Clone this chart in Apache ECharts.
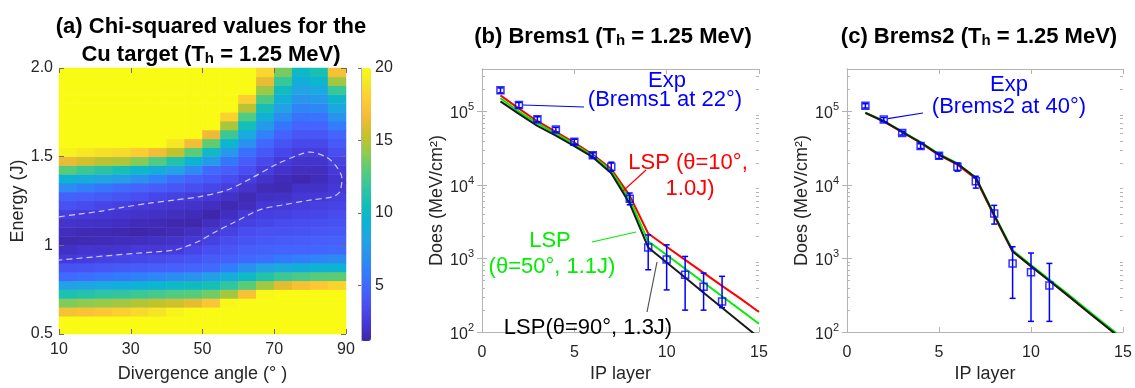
<!DOCTYPE html>
<html>
<head>
<meta charset="utf-8">
<script src="https://cdn.jsdelivr.net/npm/echarts@6/dist/echarts.min.js"></script>
<style>
  html, body { margin: 0; padding: 0; background: #fff; }
  #chart { width: 1135px; height: 388px; }
</style>
</head>
<body>
<div id="chart"></div>
<script>
// ---------- Panel (a): chi-squared map over divergence angle and laser energy ----------
// Cells are 5 deg wide and 0.05 J tall; values listed at the cell centres.
const angleBins = [12.5, 17.5, 22.5, 27.5, 32.5, 37.5, 42.5, 47.5, 52.5, 57.5, 62.5, 67.5, 72.5, 77.5, 82.5, 87.5];
const energyBins = [0.525, 0.575, 0.625, 0.675, 0.725, 0.775, 0.825, 0.875, 0.925, 0.975,
                    1.025, 1.075, 1.125, 1.175, 1.225, 1.275, 1.325, 1.375, 1.425, 1.475,
                    1.525, 1.575, 1.625, 1.675, 1.725, 1.775, 1.825, 1.875, 1.925, 1.975];
// One row per angle bin, energies ascending (values at or above 20 are shown saturated)
const chiSq = [
  [20,20,17,13.8,11,8,5,3.7,2.5,1.9,1.4,1.7,2.1,2.7,3.7,4.6,6.7,9.4,12.9,16.3,19.5,20,20,20,20,20,20,20,20,20],
  [20,20,17.2,14.1,11.3,8.3,5.2,3.9,2.6,2.2,1.5,1.5,2,2.5,3.4,4.4,6.1,8.9,12.1,15.7,19.1,20,20,20,20,20,20,20,20,20],
  [20,20,17.5,14.3,11.6,8.6,5.5,4,2.85,2.15,1.6,1.45,1.9,2.3,3.1,4.2,5.6,8.3,11.5,15.1,18.7,20,20,20,20,20,20,20,20,20],
  [20,20,17.9,14.6,11.8,8.9,5.8,4.2,3.05,2.2,1.7,1.35,1.8,2.2,2.8,3.9,5,7.8,10.8,14.8,18.4,20,20,20,20,20,20,20,20,20],
  [20,20,18.4,14.9,12.1,9.3,6.1,4.3,3.2,2.45,1.8,1.25,1.6,2.05,2.45,3.55,4.7,7.1,9.8,13.9,17.8,20,20,20,20,20,20,20,20,20],
  [20,20,18.9,15.2,12.4,9.6,6.4,4.4,3.35,2.4,1.9,1.35,1.5,1.9,2.3,3.15,4.35,6.2,9,12.7,16.7,20,20,20,20,20,20,20,20,20],
  [20,20,19.6,15.6,12.7,9.9,6.75,4.55,3.55,2.55,2.05,1.55,1.3,1.75,2.2,2.85,4,5.3,8.1,11.2,15.2,19,20,20,20,20,20,20,20,20],
  [20,20,20,16.2,12.9,10.2,7.1,4.75,3.9,3.1,2.35,1.85,1.3,1.6,2.05,2.55,3.6,4.6,6.7,9.4,13,16.7,20,20,20,20,20,20,20,20],
  [20,20,20,17.4,13.5,10.7,7.8,5,4.3,3.6,2.9,2.3,1.8,1.25,1.8,2.35,3.15,4.1,5,7.5,10,13.1,16.5,20,20,20,20,20,20,20],
  [20,20,20,19.8,14.6,11.7,8.8,5.9,4.6,4,3.5,2.9,2.3,1.8,1.4,1.95,2.7,3.5,4.4,5.6,7.6,9.6,12.1,14.7,18,20,20,20,20,20],
  [20,20,20,20,17,13,10,7.1,4.85,4.4,3.9,3.4,2.9,2.5,1.7,1.5,2.1,2.75,3.55,4.35,5.35,7,8.7,10.5,12.7,15,17.9,20,20,20],
  [20,20,20,20,19.8,14.5,11.2,8.1,5.2,4.6,4.1,3.7,3.2,2.75,2.35,1.9,1.55,2.05,2.6,3.3,4.1,4.85,6.2,7.6,9.1,10.7,12.6,14.4,16.3,18.3],
  [20,20,20,20,20,16.1,12.1,8.7,5.75,4.7,4.25,3.8,3.4,2.9,2.5,2,1.4,1.6,2.05,2.5,3.2,3.9,4.65,5.6,6.75,7.9,9.05,10.3,11.9,13.6],
  [20,20,20,20,20,17,12.5,9,6.05,4.75,4.35,3.9,3.5,3.1,2.65,2.3,1.95,1.32,1.75,2.1,2.65,3.3,4,4.7,5.45,6.35,7.25,8.1,9,9.9],
  [20,20,20,20,20,17.6,12.9,9.3,6.35,4.8,4.4,4,3.6,3.2,2.8,2.4,2,1.65,1.75,2.15,2.65,3.3,4,4.7,5.5,6.55,7.55,8.55,9.6,10.8],
  [20,20,20,20,20,18.1,13,9.35,6.65,4.85,4.5,4.1,3.75,3.4,3.05,2.7,2.4,2.2,2.45,2.95,3.6,4.2,4.8,5.9,7.2,8.5,9.7,12,14.5,17]
];
// Dashed low-chi-squared contour, traced as (angle, energy) pairs
const contourAngle  = [10, 15, 21.4, 28, 35.3, 42, 49.3, 56.7, 63.3, 70.7, 77.2, 80, 84.7, 87.5, 88.9, 88.6, 88.4,
                       86.4, 80, 72.4, 65.9, 58.6, 53, 49.3, 45, 41.9, 30.7, 20, 10];
const contourEnergy = [1.161, 1.175, 1.192, 1.215, 1.238, 1.255, 1.275, 1.311, 1.375, 1.458, 1.513, 1.526, 1.495, 1.44, 1.376, 1.321, 1.303,
                       1.274, 1.255, 1.228, 1.2, 1.127, 1.07, 1.026, 0.99, 0.972, 0.954, 0.935, 0.917];
const angleTicks = [10, 30, 50, 70, 90];
const energyTicks = [0.5, 1, 1.5, 2];
const colorbarTicks = [5, 10, 15, 20];

// ---------- Panels (b) and (c): dose per IP layer ----------
const layers = [1, 2, 3, 4, 5, 6, 7, 8, 9, 10, 11, 12, 13, 14, 15];
// Brems1 simulations
const brems1Lsp10 = [166000, 110000, 74000, 53000, 38000, 26000, 16500, 7200, 2200, 1450, 960, 640, 425, 285, 188];
const brems1Lsp50 = [152000, 100000, 69000, 50000, 36000, 25000, 15500, 6400, 1720, 1120, 728, 473, 308, 200, 130];
const brems1Lsp90 = [138000, 93000, 64000, 47000, 34000, 24000, 14500, 5600, 1420, 885, 552, 344, 215, 134, 84];
// Brems1 measurement
const brems1Layers = [1, 2, 3, 4, 5, 6, 7, 8, 9, 10, 11, 12, 13];
const brems1Exp    = [195000, 123000, 79000, 57000, 39000, 25500, 17800, 6500, 1420, 970, 605, 415, 261];
const brems1Low    = [180000, 113000, 73000, 53000, 36000, 23500, 15500, 5400, 705, 375, 199, 199, 215];
const brems1High   = [210000, 133000, 85000, 61000, 42000, 27500, 20500, 7800, 2100, 1540, 1070, 635, 574];
// Brems2 simulations
const brems2Lsp10 = [96000, 73000, 52500, 37500, 25500, 19000, 12200, 3800, 1250, 790, 500, 316, 197, 124, 78];
const brems2Lsp50 = [97000, 74500, 53500, 38500, 26500, 19700, 12700, 4000, 1300, 820, 520, 330, 206, 130, 82];
const brems2Lsp90 = [96000, 74000, 53000, 38000, 26000, 19500, 12600, 3900, 1260, 790, 500, 316, 197, 124, 78];
// Brems2 measurement
const brems2Layers = [1, 2, 3, 4, 5, 6, 7, 8, 9, 10, 11];
const brems2Exp    = [120000, 78000, 51000, 34000, 25000, 17800, 11300, 4100, 860, 650, 432];
const brems2Low    = [112000, 73000, 48000, 31500, 23000, 15500, 9100, 2950, 288, 140, 140];
const brems2High   = [128000, 83000, 54000, 36500, 27000, 20000, 13200, 5300, 1450, 1190, 860];

const doseMajorTicks = [100, 1000, 10000, 100000];
const doseMinorTicks = [200, 300, 400, 500, 600, 700, 800, 900,
                        2000, 3000, 4000, 5000, 6000, 7000, 8000, 9000,
                        20000, 30000, 40000, 50000, 60000, 70000, 80000, 90000,
                        200000, 300000];

// ---------- styling ----------
const FONT = "'Liberation Sans', Arial, Helvetica, sans-serif";
const TXT = '#262626';
const FRAME = '#b4b4b4';
const BLUE = '#0000ff';
const RED = '#ff0000';
const GREEN = '#00ee00';
const BLACK = '#1a1a1a';
// parula colormap, 17 evenly spaced stops
const PARULA = ['#3e26a8', '#4537d5', '#484df0', '#4563fd', '#327cfc', '#2b91ef', '#20a5e3', '#0db3d3', '#12beb8',
                '#31c69f', '#57cc7a', '#8fcb4e', '#c5c22a', '#f0ba36', '#fec934', '#f5e327', '#f9fb15'];
const TICK_FS = 16;
const NAME_FS = 18;

const pairs = (xs, ys) => xs.map((x, i) => [x, ys[i]]);
const heatData = [];
angleBins.forEach((a, i) => energyBins.forEach((e, j) => heatData.push([i, j, chiSq[i][j]])));

const labelStyle = { fontFamily: FONT, fontSize: TICK_FS, color: TXT };
const nameStyle = { fontFamily: FONT, fontSize: NAME_FS, color: TXT };
const powRich = {
  b: { fontFamily: FONT, fontSize: TICK_FS, color: TXT, padding: [4, 0, 0, 0], verticalAlign: 'bottom' },
  s: { fontFamily: FONT, fontSize: 11, color: TXT, verticalAlign: 'top' }
};
const powLabel = v => '{b|10}{s|' + Math.round(Math.log10(v)) + '}';

function doseAxes(grid, nameGap) {
  const base = { gridIndex: grid, type: 'log', logBase: 10, min: 100, max: 380000, splitLine: { show: false } };
  return [
    Object.assign({}, base, {
      position: 'left',
      axisLine: { show: true, lineStyle: { color: FRAME } },
      axisTick: { show: true, inside: true, length: 5, customValues: doseMajorTicks, lineStyle: { color: FRAME } },
      axisLabel: { customValues: doseMajorTicks, formatter: powLabel, rich: powRich, margin: 8 },
      name: 'Does (MeV/cm²)', nameLocation: 'middle', nameGap: nameGap, nameTextStyle: nameStyle
    }),
    Object.assign({}, base, {
      position: 'right',
      axisLine: { show: true, lineStyle: { color: FRAME } },
      axisTick: { show: true, inside: true, length: 5, customValues: doseMajorTicks, lineStyle: { color: FRAME } },
      axisLabel: { show: false }
    }),
    Object.assign({}, base, {
      position: 'left',
      axisLine: { show: false },
      axisTick: { show: true, inside: true, length: 3, customValues: doseMinorTicks, lineStyle: { color: FRAME } },
      axisLabel: { show: false }
    }),
    Object.assign({}, base, {
      position: 'right',
      axisLine: { show: false },
      axisTick: { show: true, inside: true, length: 3, customValues: doseMinorTicks, lineStyle: { color: FRAME } },
      axisLabel: { show: false }
    })
  ];
}
function layerAxes(grid) {
  const base = { gridIndex: grid, type: 'value', min: 0, max: 15, interval: 5, splitLine: { show: false } };
  return [
    Object.assign({}, base, {
      position: 'bottom',
      axisLine: { show: true, lineStyle: { color: FRAME } },
      axisTick: { show: true, inside: true, length: 5, lineStyle: { color: FRAME } },
      axisLabel: Object.assign({ margin: 12 }, labelStyle),
      name: 'IP layer', nameLocation: 'middle', nameGap: 32, nameTextStyle: nameStyle
    }),
    Object.assign({}, base, {
      position: 'top',
      axisLine: { show: true, lineStyle: { color: FRAME } },
      axisTick: { show: true, inside: true, length: 5, lineStyle: { color: FRAME } },
      axisLabel: { show: false }
    })
  ];
}

function lspLine(xIdx, yIdx, values, color, z) {
  return {
    type: 'line', xAxisIndex: xIdx, yAxisIndex: yIdx, data: pairs(layers, values),
    showSymbol: false, clip: true, z: z, silent: true,
    lineStyle: { color: color, width: 2 }, itemStyle: { color: color }
  };
}
function errorBars(xIdx, yIdx, xs, lo, hi) {
  return {
    type: 'custom', xAxisIndex: xIdx, yAxisIndex: yIdx, z: 6, silent: true,
    data: xs.map((x, i) => [x, lo[i], hi[i]]),
    encode: { x: 0, y: [1, 2] },
    renderItem: (params, api) => {
      const top = api.coord([api.value(0), api.value(2)]);
      const bot = api.coord([api.value(0), api.value(1)]);
      const cap = 3;
      const st = { stroke: BLUE, lineWidth: 1.5 };
      return {
        type: 'group', children: [
          { type: 'line', shape: { x1: top[0], y1: top[1], x2: bot[0], y2: bot[1] }, style: st },
          { type: 'line', shape: { x1: top[0] - cap, y1: top[1], x2: top[0] + cap, y2: top[1] }, style: st },
          { type: 'line', shape: { x1: bot[0] - cap, y1: bot[1], x2: bot[0] + cap, y2: bot[1] }, style: st }
        ]
      };
    }
  };
}
function expPoints(xIdx, yIdx, xs, vals) {
  return {
    type: 'scatter', xAxisIndex: xIdx, yAxisIndex: yIdx, z: 7, silent: true,
    data: pairs(xs, vals), symbol: 'rect', symbolSize: 7,
    itemStyle: { color: 'rgba(255,255,255,0)', borderColor: BLUE, borderWidth: 1.5 }
  };
}

const chart = echarts.init(document.getElementById('chart'), null, { renderer: 'canvas' });

const option = {
  animation: false,
  backgroundColor: '#ffffff',
  textStyle: { fontFamily: FONT },
  grid: [
    { left: 59, top: 68, width: 287, height: 273 },
    { left: 482, top: 69, width: 277, height: 272 },
    { left: 847, top: 69, width: 276, height: 272 },
    { left: 361, top: 68, width: 10, height: 273 }
  ],
  xAxis: [
    { gridIndex: 0, type: 'category', data: angleBins, show: false },
    { gridIndex: 0, type: 'value', min: 10, max: 90, position: 'bottom', z: 5, splitLine: { show: false },
      axisLine: { show: false },
      axisTick: { show: true, inside: true, length: 5, customValues: angleTicks, lineStyle: { color: '#6e6e6e' } },
      axisLabel: Object.assign({ customValues: angleTicks, margin: 8 }, labelStyle),
      name: 'Divergence angle (° )', nameLocation: 'middle', nameGap: 31, nameTextStyle: nameStyle },
    { gridIndex: 0, type: 'value', min: 10, max: 90, position: 'top', z: 5, splitLine: { show: false },
      axisLine: { show: false },
      axisTick: { show: true, inside: true, length: 5, customValues: angleTicks, lineStyle: { color: '#6e6e6e' } },
      axisLabel: { show: false } },
    ...layerAxes(1),
    ...layerAxes(2),
    { gridIndex: 3, type: 'value', min: 0, max: 1, show: false }
  ],
  yAxis: [
    { gridIndex: 0, type: 'category', data: energyBins, show: false },
    { gridIndex: 0, type: 'value', min: 0.5, max: 2, position: 'left', z: 5, splitLine: { show: false },
      axisLine: { show: false },
      axisTick: { show: true, inside: true, length: 5, customValues: energyTicks, lineStyle: { color: '#6e6e6e' } },
      axisLabel: Object.assign({ customValues: energyTicks, margin: 6, formatter: v => (v === 2 ? '2.0' : String(v)) }, labelStyle),
      name: 'Energy (J)', nameLocation: 'middle', nameGap: 32, nameTextStyle: nameStyle },
    { gridIndex: 0, type: 'value', min: 0.5, max: 2, position: 'right', z: 5, splitLine: { show: false },
      axisLine: { show: false },
      axisTick: { show: true, inside: true, length: 5, customValues: energyTicks, lineStyle: { color: '#6e6e6e' } },
      axisLabel: { show: false } },
    ...doseAxes(1, 36),
    ...doseAxes(2, 35),
    { gridIndex: 3, type: 'value', min: 1.15, max: 20, position: 'right', z: 5, splitLine: { show: false },
      axisLine: { show: true, lineStyle: { color: FRAME } },
      axisTick: { show: true, inside: true, length: 3, customValues: colorbarTicks, lineStyle: { color: '#6e6e6e' } },
      axisLabel: Object.assign({ customValues: colorbarTicks, margin: 4 }, labelStyle) }
  ],
  visualMap: {
    type: 'continuous', min: 1.15, max: 20, seriesIndex: 0, dimension: 2,
    left: 361, top: 68, itemWidth: 10, itemHeight: 273, padding: 0,
    calculable: false, hoverLink: false, text: null,
    inRange: { color: PARULA }
  },
  series: [
    { type: 'heatmap', xAxisIndex: 0, yAxisIndex: 0, data: heatData, progressive: 0, silent: true,
      itemStyle: { borderWidth: 0 }, emphasis: { disabled: true } },
    { type: 'line', xAxisIndex: 1, yAxisIndex: 1, data: pairs(contourAngle, contourEnergy), z: 4, silent: true,
      showSymbol: false, smooth: 0.3,
      lineStyle: { color: 'rgba(225,225,255,0.85)', width: 1.2, type: [6, 4] } },
    // (b) Brems1
    lspLine(3, 3, brems1Lsp10, RED, 3),
    lspLine(3, 3, brems1Lsp50, GREEN, 4),
    lspLine(3, 3, brems1Lsp90, BLACK, 5),
    errorBars(3, 3, brems1Layers, brems1Low, brems1High),
    expPoints(3, 3, brems1Layers, brems1Exp),
    // (c) Brems2
    lspLine(5, 7, brems2Lsp10, RED, 3),
    lspLine(5, 7, brems2Lsp50, GREEN, 4),
    lspLine(5, 7, brems2Lsp90, BLACK, 5),
    errorBars(5, 7, brems2Layers, brems2Low, brems2High),
    expPoints(5, 7, brems2Layers, brems2Exp)
  ]
};
chart.setOption(option);

// ---------- titles and annotations ----------
const titleRich = {
  t: { fontFamily: FONT, fontSize: 22, fontWeight: 'bold', color: '#000', padding: [0, 0, 1, 0], verticalAlign: 'top' },
  h: { fontFamily: FONT, fontSize: 15, fontWeight: 'bold', color: '#000', verticalAlign: 'bottom' }
};
function label(text, x, y, color, extra) {
  return {
    type: 'text', z: 20, silent: true,
    style: Object.assign({
      text: text, x: x, y: y, fill: color,
      font: '22px ' + FONT,
      align: 'center', verticalAlign: 'middle', textAlign: 'center', textVerticalAlign: 'middle'
    }, extra || {})
  };
}
function richTitle(text, x, y) {
  return label(text, x, y, '#000', { rich: titleRich, font: 'bold 22px ' + FONT });
}
function leader(p1, p2, color) {
  return { type: 'line', z: 19, silent: true,
    shape: { x1: p1[0], y1: p1[1], x2: p2[0], y2: p2[1] }, style: { stroke: color, lineWidth: 1.2 } };
}

const b2 = chart.convertToPixel({ seriesIndex: 6 }, [brems1Layers[1], brems1Exp[1]]);
const c2 = chart.convertToPixel({ seriesIndex: 11 }, [brems2Layers[1], brems2Exp[1]]);

chart.setOption({
  graphic: [
    label('{t|(a) Chi-squared values for the}', 211, 27, '#000', { rich: titleRich, font: 'bold 22px ' + FONT }),
    richTitle('{t|Cu target (T}{h|h}{t| = 1.25 MeV)}', 211, 55),
    richTitle('{t|(b) Brems1 (T}{h|h}{t| = 1.25 MeV)}', 613, 37),
    richTitle('{t|(c) Brems2 (T}{h|h}{t| = 1.25 MeV)}', 979, 37),

    leader([b2[0] + 4, b2[1]], [584, 107], BLUE),
    label('Exp', 667, 81, BLUE),
    label('(Brems1 at 22°)', 665, 100, BLUE),

    leader([646, 170], [623, 191], RED),
    label('LSP (θ=10°,', 688, 163, RED),
    label('1.0J)', 690, 189, RED),

    leader([592, 242], [636, 232], GREEN),
    label('LSP', 550, 241, GREEN),
    label('(θ=50°, 1.1J)', 552, 267, GREEN),

    leader([647, 312], [657, 262], '#555'),
    label('LSP(θ=90°, 1.3J)', 588, 328, '#000'),

    leader([c2[0] + 4, c2[1] - 1], [923, 113], BLUE),
    label('Exp', 1009, 85, BLUE),
    label('(Brems2 at 40°)', 1009, 107, BLUE)
  ]
});
</script>
</body>
</html>
